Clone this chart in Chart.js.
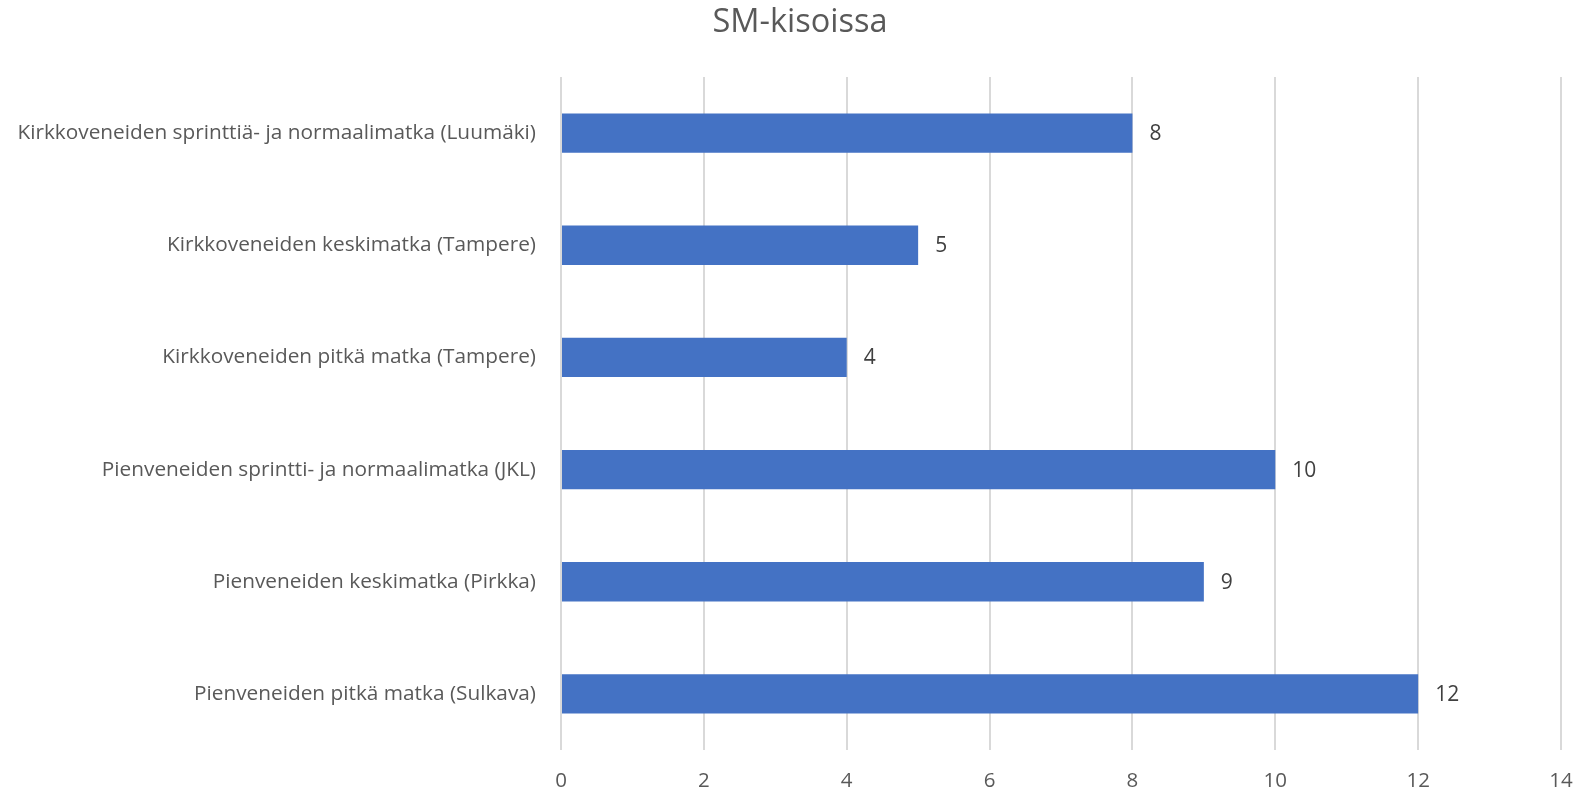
<!DOCTYPE html>
<html>
<head>
<meta charset="utf-8">
<script src="https://cdn.jsdelivr.net/npm/chart.js@4"></script>
<style>
  body { margin: 0; background: #fff; }
  #wrap { width: 1580px; height: 792px; }
</style>
</head>
<body>
<div id="wrap"><canvas id="canvas"></canvas></div>
<script>
const kisat = [
  'Kirkkoveneiden sprinttiä- ja normaalimatka (Luumäki)',
  'Kirkkoveneiden keskimatka (Tampere)',
  'Kirkkoveneiden pitkä matka (Tampere)',
  'Pienveneiden sprintti- ja normaalimatka (JKL)',
  'Pienveneiden keskimatka (Pirkka)',
  'Pienveneiden pitkä matka (Sulkava)'
];
const maara = [8, 5, 4, 10, 9, 12];
const xMax = 14;

// arvot palkkien perään
const arvoLabelit = {
  id: 'arvoLabelit',
  afterDatasetsDraw(chart) {
    const ctx = chart.ctx;
    const meta = chart.getDatasetMeta(0);
    ctx.save();
    ctx.font = '21px "Open Sans", sans-serif';
    ctx.fillStyle = '#404040';
    ctx.textBaseline = 'middle';
    ctx.textAlign = 'left';
    meta.data.forEach(function(bar, i){
      ctx.fillText(String(maara[i]), bar.x + 17, bar.y + 1);
    });
    ctx.restore();
  }
};

new Chart(document.getElementById('canvas'), {
  type: 'bar',
  data: {
    labels: kisat,
    datasets: [{
      label: 'SM-kisoissa',
      data: maara,
      backgroundColor: '#4472C4',
      borderWidth: 0,
      categoryPercentage: 1,
      barPercentage: 0.35
    }]
  },
  options: {
    indexAxis: 'y',
    responsive: true,
    maintainAspectRatio: false,
    animation: false,
    // oikea negatiivinen jotta otsikko osuu kohdalleen
    layout: { padding: { top: 3, right: -20, bottom: 0, left: 0 } },
    plugins: {
      legend: { display: false },
      tooltip: { enabled: false },
      title: {
        display: true,
        text: 'SM-kisoissa',
        color: '#595959',
        font: { family: '"Open Sans", sans-serif', size: 32.5, weight: 'normal' },
        padding: { top: 0, bottom: 35 }
      }
    },
    scales: {
      x: {
        min: 0,
        max: xMax,
        ticks: {
          stepSize: 2,
          color: '#595959',
          font: { family: '"Open Sans", sans-serif', size: 20.5 },
          padding: 19,
          maxRotation: 0
        },
        grid: { color: '#d9d9d9', lineWidth: 2, drawTicks: false },
        border: { display: false },
        afterFit(scale) {
          scale.height = 42;
          scale.paddingLeft = 0;
          scale.paddingRight = 19;
        }
      },
      y: {
        ticks: {
          color: '#595959',
          font: { family: '"Open Sans", sans-serif', size: 20.8 },
          padding: 17
        },
        grid: { display: false },
        border: { display: false },
        afterFit(scale) { scale.width = 561; }
      }
    }
  },
  plugins: [arvoLabelit]
});
</script>
</body>
</html>
